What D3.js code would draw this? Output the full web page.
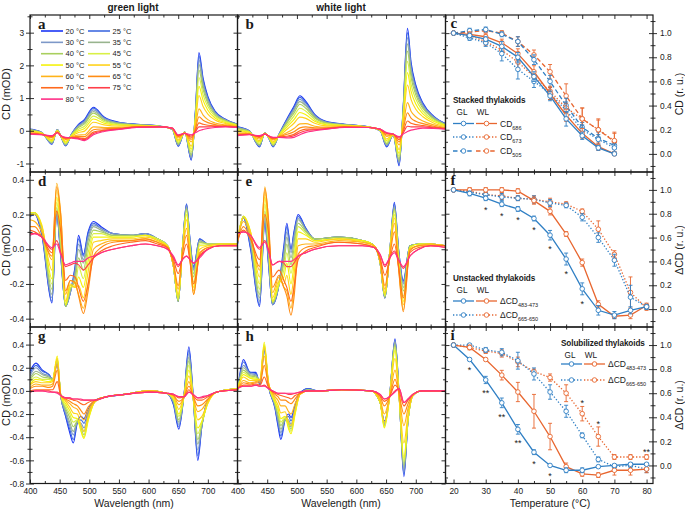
<!DOCTYPE html>
<html><head><meta charset="utf-8">
<script src="https://cdn.jsdelivr.net/npm/d3@7"></script>
<style>body{margin:0;background:#fff}</style></head>
<body><svg id="chart" width="685" height="511"></svg>
<script>
// ---------------- data ----------------
const temps = [20,25,30,35,40,45,50,55,60,65,70,75,80];
const tempColors = ["#1a35f5","#3f6ae0","#7d98c8","#98b48e","#a9cf5e","#d9f046","#f5f20c","#ffd21a","#ffb31a","#ff8c14","#ff6a1e","#ff3f4a","#ff2f86"];

// panel a: green light, stacked (rows = wavelength, columns = temps)
const aWl = [400,420,437,446,452,460,470,481,492,507,525,550,580,620,640,650,661,672,679,685,692,700,712,730,750];
const aCD = [
[0.05,0.04,0.04,0.03,0.02,0.0,-0.01,-0.03,-0.06,-0.07,-0.09,-0.09,-0.1],
[-0.05,-0.05,-0.06,-0.06,-0.07,-0.07,-0.08,-0.09,-0.1,-0.11,-0.11,-0.12,-0.12],
[-0.41,-0.4,-0.39,-0.37,-0.35,-0.33,-0.3,-0.27,-0.22,-0.2,-0.18,-0.16,-0.15],
[0.04,0.04,0.03,0.03,0.02,0.01,0.0,-0.02,-0.03,-0.04,-0.05,-0.06,-0.06],
[-0.17,-0.17,-0.17,-0.17,-0.16,-0.16,-0.16,-0.16,-0.16,-0.15,-0.15,-0.15,-0.15],
[-0.46,-0.45,-0.44,-0.42,-0.4,-0.38,-0.35,-0.32,-0.27,-0.25,-0.23,-0.21,-0.2],
[-0.1,-0.1,-0.11,-0.12,-0.13,-0.14,-0.15,-0.17,-0.19,-0.2,-0.21,-0.21,-0.22],
[0.18,0.16,0.14,0.12,0.09,0.04,-0.01,-0.06,-0.13,-0.17,-0.21,-0.23,-0.25],
[0.35,0.32,0.29,0.25,0.21,0.14,0.07,-0.01,-0.12,-0.18,-0.24,-0.27,-0.3],
[0.72,0.69,0.64,0.59,0.54,0.45,0.36,0.26,0.12,0.03,-0.04,-0.08,-0.12],
[0.42,0.4,0.38,0.35,0.32,0.28,0.23,0.18,0.1,0.06,0.02,0.0,-0.02],
[0.26,0.25,0.24,0.23,0.21,0.19,0.17,0.14,0.1,0.08,0.06,0.05,0.04],
[0.2,0.2,0.19,0.19,0.18,0.17,0.16,0.15,0.13,0.12,0.11,0.11,0.1],
[0.14,0.14,0.14,0.14,0.14,0.13,0.13,0.13,0.13,0.12,0.12,0.12,0.12],
[0.05,0.05,0.05,0.05,0.06,0.06,0.06,0.07,0.07,0.07,0.08,0.08,0.08],
[-0.47,-0.46,-0.44,-0.42,-0.39,-0.36,-0.32,-0.28,-0.22,-0.18,-0.16,-0.14,-0.12],
[-0.03,-0.03,-0.03,-0.04,-0.04,-0.05,-0.05,-0.06,-0.07,-0.07,-0.08,-0.08,-0.08],
[-0.9,-0.87,-0.83,-0.78,-0.73,-0.65,-0.56,-0.47,-0.34,-0.26,-0.2,-0.16,-0.12],
[0.6,0.57,0.54,0.5,0.45,0.39,0.32,0.24,0.12,0.06,0.01,-0.03,-0.06],
[2.39,2.29,2.17,2.03,1.86,1.63,1.36,1.08,0.67,0.43,0.24,0.12,0.0],
[1.6,1.54,1.46,1.37,1.26,1.1,0.93,0.74,0.48,0.32,0.2,0.12,0.04],
[1.05,1.01,0.96,0.9,0.83,0.74,0.63,0.51,0.34,0.25,0.17,0.12,0.07],
[0.6,0.58,0.56,0.53,0.49,0.44,0.39,0.33,0.24,0.19,0.15,0.13,0.1],
[0.35,0.34,0.33,0.32,0.3,0.28,0.25,0.22,0.18,0.16,0.14,0.13,0.12],
[0.2,0.2,0.19,0.19,0.18,0.17,0.16,0.15,0.13,0.12,0.11,0.11,0.1]];

// panel b: white light, stacked
const bWl = [400,420,437,446,452,460,470,485,495,505,515,530,550,580,620,640,651,662,672,679,686,692,700,712,730,750];
const bCD = [
[0.12,0.11,0.1,0.08,0.06,0.03,0.0,-0.03,-0.07,-0.1,-0.12,-0.14,-0.15],
[0.0,-0.01,-0.01,-0.02,-0.03,-0.04,-0.05,-0.07,-0.09,-0.1,-0.11,-0.11,-0.12],
[-0.49,-0.48,-0.46,-0.44,-0.42,-0.38,-0.34,-0.3,-0.25,-0.21,-0.18,-0.17,-0.15],
[-0.06,-0.06,-0.06,-0.07,-0.07,-0.07,-0.08,-0.08,-0.09,-0.09,-0.1,-0.1,-0.1],
[-0.2,-0.2,-0.2,-0.19,-0.19,-0.18,-0.18,-0.17,-0.16,-0.16,-0.16,-0.15,-0.15],
[-0.49,-0.48,-0.46,-0.45,-0.43,-0.4,-0.37,-0.33,-0.28,-0.25,-0.23,-0.21,-0.2],
[-0.1,-0.1,-0.11,-0.12,-0.12,-0.13,-0.14,-0.16,-0.17,-0.18,-0.19,-0.2,-0.2],
[0.43,0.4,0.37,0.33,0.29,0.22,0.15,0.07,-0.04,-0.1,-0.16,-0.19,-0.22],
[0.75,0.71,0.66,0.61,0.54,0.45,0.34,0.23,0.07,-0.03,-0.11,-0.15,-0.2],
[1.07,1.02,0.96,0.89,0.81,0.69,0.56,0.42,0.21,0.09,0.0,-0.06,-0.12],
[0.9,0.86,0.81,0.76,0.69,0.6,0.49,0.38,0.22,0.12,0.05,0.0,-0.05],
[0.5,0.48,0.46,0.43,0.39,0.34,0.29,0.23,0.14,0.09,0.05,0.03,0.0],
[0.28,0.27,0.26,0.25,0.23,0.21,0.18,0.15,0.11,0.09,0.07,0.06,0.05],
[0.2,0.2,0.19,0.19,0.18,0.17,0.16,0.15,0.13,0.12,0.11,0.11,0.1],
[0.12,0.12,0.12,0.12,0.12,0.11,0.11,0.11,0.11,0.1,0.1,0.1,0.1],
[0.0,0.0,0.0,0.01,0.01,0.02,0.02,0.03,0.04,0.04,0.05,0.05,0.05],
[-0.49,-0.47,-0.45,-0.42,-0.39,-0.35,-0.3,-0.25,-0.17,-0.13,-0.09,-0.07,-0.05],
[-0.13,-0.13,-0.13,-0.13,-0.12,-0.12,-0.12,-0.11,-0.11,-0.11,-0.1,-0.1,-0.1],
[-1.07,-1.03,-0.99,-0.94,-0.87,-0.79,-0.69,-0.58,-0.43,-0.34,-0.27,-0.22,-0.18],
[0.8,0.76,0.72,0.67,0.6,0.51,0.41,0.31,0.15,0.06,-0.01,-0.06,-0.1],
[3.13,3.0,2.85,2.66,2.44,2.12,1.78,1.4,0.86,0.55,0.3,0.14,-0.02],
[2.1,2.02,1.91,1.79,1.64,1.43,1.21,0.96,0.6,0.39,0.23,0.12,0.02],
[1.4,1.35,1.28,1.2,1.1,0.97,0.82,0.66,0.43,0.29,0.19,0.12,0.05],
[0.85,0.82,0.78,0.73,0.68,0.6,0.52,0.43,0.3,0.22,0.16,0.12,0.08],
[0.45,0.43,0.42,0.39,0.37,0.33,0.29,0.24,0.18,0.14,0.11,0.09,0.07],
[0.22,0.21,0.2,0.19,0.18,0.17,0.15,0.13,0.1,0.08,0.07,0.06,0.05]];

// panel d: green light, unstacked
const dWl = [400,408,420,437,445,452,460,468,476,482,490,498,507,520,540,570,595,615,632,642,650,657,664,670,676,686,700,720,750];
const dCD = [
[0.19,0.19,0.2,0.2,0.21,0.21,0.21,0.2,0.17,0.13,0.11,0.09,0.08],
[0.2,0.2,0.21,0.21,0.21,0.21,0.21,0.2,0.16,0.13,0.1,0.09,0.09],
[0.08,0.09,0.1,0.11,0.12,0.13,0.14,0.13,0.1,0.07,0.07,0.07,0.07],
[-0.31,-0.3,-0.28,-0.26,-0.23,-0.2,-0.17,-0.12,-0.06,-0.04,-0.02,0.0,0.01],
[0.2,0.2,0.21,0.22,0.24,0.27,0.3,0.34,0.38,0.36,0.22,0.05,0.03],
[-0.05,-0.04,-0.03,-0.01,0.02,0.06,0.1,0.14,0.2,0.19,0.1,-0.02,-0.03],
[-0.33,-0.33,-0.33,-0.33,-0.33,-0.32,-0.32,-0.3,-0.26,-0.24,-0.18,-0.1,-0.09],
[-0.25,-0.25,-0.25,-0.24,-0.23,-0.22,-0.21,-0.2,-0.18,-0.18,-0.15,-0.09,-0.08],
[-0.1,-0.11,-0.13,-0.15,-0.18,-0.21,-0.22,-0.22,-0.2,-0.19,-0.16,-0.08,-0.07],
[0.08,0.06,0.03,0.0,-0.05,-0.1,-0.16,-0.21,-0.26,-0.27,-0.22,-0.09,-0.07],
[-0.03,-0.04,-0.06,-0.08,-0.12,-0.17,-0.22,-0.28,-0.34,-0.37,-0.3,-0.12,-0.07],
[0.1,0.09,0.07,0.05,0.02,-0.02,-0.07,-0.13,-0.2,-0.24,-0.2,-0.09,-0.05],
[0.16,0.15,0.14,0.13,0.11,0.09,0.07,0.04,0.0,-0.04,-0.05,-0.05,-0.04],
[0.13,0.12,0.12,0.11,0.1,0.09,0.07,0.05,0.03,0.01,-0.01,-0.02,-0.02],
[0.09,0.09,0.09,0.08,0.08,0.07,0.07,0.06,0.05,0.04,0.02,0.0,0.0],
[0.08,0.08,0.08,0.08,0.08,0.07,0.07,0.06,0.05,0.05,0.04,0.02,0.02],
[0.09,0.09,0.09,0.08,0.08,0.08,0.08,0.07,0.06,0.06,0.05,0.03,0.03],
[0.06,0.06,0.06,0.06,0.06,0.06,0.05,0.05,0.04,0.04,0.03,0.02,0.02],
[0.02,0.02,0.02,0.02,0.02,0.02,0.02,0.01,0.01,0.01,0.01,0.0,0.0],
[-0.1,-0.1,-0.1,-0.1,-0.1,-0.1,-0.1,-0.09,-0.09,-0.08,-0.06,-0.05,-0.04],
[-0.3,-0.3,-0.3,-0.3,-0.3,-0.29,-0.28,-0.26,-0.23,-0.21,-0.14,-0.1,-0.09],
[0.0,0.0,0.0,0.0,0.0,-0.01,-0.01,-0.01,-0.02,-0.03,-0.05,-0.06,-0.06],
[0.26,0.26,0.25,0.24,0.23,0.22,0.2,0.17,0.12,0.08,0.03,-0.04,-0.04],
[0.05,0.05,0.04,0.03,0.02,0.0,-0.02,-0.04,-0.06,-0.07,-0.07,-0.06,-0.06],
[-0.1,-0.11,-0.12,-0.14,-0.16,-0.19,-0.22,-0.24,-0.26,-0.26,-0.2,-0.08,-0.08],
[0.06,0.06,0.05,0.05,0.04,0.03,0.02,0.0,-0.02,-0.03,-0.04,-0.04,-0.05],
[0.03,0.03,0.03,0.03,0.03,0.03,0.02,0.02,0.01,0.01,0.0,0.0,0.0],
[0.03,0.03,0.03,0.03,0.03,0.03,0.03,0.03,0.02,0.02,0.02,0.02,0.02],
[0.03,0.03,0.03,0.03,0.03,0.03,0.03,0.03,0.03,0.02,0.02,0.02,0.02]];

// panel e: white light, unstacked
const eWl = [400,410,422,437,446,452,459,470,478,483,490,495,502,515,530,570,610,630,640,648,656,664,671,679,690,705,725,750];
const eCD = [
[0.03,0.03,0.04,0.04,0.05,0.05,0.05,0.05,0.05,0.04,0.06,0.09,0.09],
[0.18,0.18,0.19,0.19,0.19,0.19,0.19,0.18,0.16,0.13,0.11,0.1,0.1],
[0.0,0.01,0.03,0.05,0.07,0.09,0.1,0.1,0.08,0.06,0.06,0.08,0.08],
[-0.33,-0.32,-0.3,-0.28,-0.26,-0.23,-0.2,-0.16,-0.12,-0.1,-0.06,0.0,0.01],
[0.15,0.16,0.17,0.19,0.22,0.26,0.3,0.33,0.36,0.35,0.2,0.05,0.04],
[-0.08,-0.07,-0.05,-0.03,0.0,0.04,0.08,0.12,0.17,0.18,0.1,0.0,-0.01],
[-0.32,-0.32,-0.32,-0.31,-0.31,-0.3,-0.3,-0.28,-0.25,-0.22,-0.16,-0.09,-0.09],
[-0.2,-0.2,-0.2,-0.2,-0.2,-0.2,-0.19,-0.18,-0.16,-0.15,-0.12,-0.07,-0.07],
[0.02,0.0,-0.02,-0.05,-0.08,-0.12,-0.16,-0.2,-0.22,-0.22,-0.18,-0.08,-0.07],
[0.15,0.13,0.1,0.07,0.03,-0.02,-0.08,-0.15,-0.24,-0.27,-0.22,-0.1,-0.07],
[0.0,0.0,-0.02,-0.05,-0.09,-0.14,-0.2,-0.26,-0.34,-0.38,-0.3,-0.1,-0.07],
[0.1,0.09,0.07,0.04,0.0,-0.04,-0.09,-0.15,-0.23,-0.28,-0.22,-0.08,-0.06],
[0.2,0.19,0.18,0.17,0.15,0.13,0.1,0.06,0.02,-0.03,-0.06,-0.04,-0.04],
[0.12,0.12,0.11,0.11,0.1,0.09,0.08,0.06,0.03,0.01,-0.01,-0.02,-0.02],
[0.06,0.06,0.06,0.06,0.06,0.05,0.05,0.04,0.03,0.02,0.01,0.0,0.0],
[0.07,0.07,0.07,0.07,0.07,0.06,0.06,0.06,0.05,0.04,0.04,0.02,0.02],
[0.05,0.05,0.05,0.05,0.05,0.05,0.05,0.04,0.04,0.03,0.03,0.02,0.02],
[0.02,0.02,0.02,0.02,0.02,0.02,0.02,0.02,0.02,0.01,0.01,0.01,0.01],
[-0.08,-0.08,-0.08,-0.08,-0.08,-0.08,-0.07,-0.07,-0.07,-0.06,-0.05,-0.03,-0.03],
[-0.28,-0.28,-0.28,-0.28,-0.27,-0.27,-0.26,-0.25,-0.23,-0.21,-0.15,-0.1,-0.09],
[-0.02,-0.02,-0.02,-0.02,-0.02,-0.02,-0.03,-0.03,-0.04,-0.05,-0.06,-0.05,-0.05],
[0.27,0.26,0.25,0.24,0.23,0.22,0.2,0.18,0.15,0.1,0.03,-0.01,-0.02],
[0.0,0.0,-0.01,-0.02,-0.03,-0.05,-0.07,-0.09,-0.1,-0.11,-0.1,-0.06,-0.06],
[-0.18,-0.19,-0.2,-0.22,-0.24,-0.27,-0.3,-0.32,-0.35,-0.36,-0.28,-0.11,-0.1],
[0.02,0.02,0.02,0.02,0.02,0.01,0.01,0.0,0.0,-0.01,-0.02,-0.04,-0.04],
[0.03,0.03,0.03,0.03,0.03,0.03,0.03,0.02,0.02,0.02,0.01,0.0,0.0],
[0.03,0.03,0.03,0.03,0.03,0.03,0.03,0.03,0.03,0.02,0.02,0.02,0.02],
[0.02,0.02,0.02,0.02,0.02,0.02,0.02,0.02,0.02,0.02,0.02,0.01,0.01]];

// panel g: green light, solubilized
const gWl = [400,410,421,432,438,446,452,460,467,473,480,486,491,498,510,530,560,600,630,642,651,660,668,675,683,690,700,715,750];
const gCD = [
[0.17,0.15,0.13,0.11,0.09,0.08,0.06,0.05,0.03,0.02,0.0,-0.01,-0.01],
[0.24,0.22,0.2,0.17,0.15,0.12,0.1,0.08,0.06,0.04,0.01,0.0,0.0],
[0.18,0.17,0.15,0.14,0.12,0.1,0.09,0.07,0.05,0.04,0.01,0.0,0.0],
[0.14,0.14,0.13,0.12,0.11,0.1,0.08,0.07,0.05,0.03,0.01,0.0,-0.01],
[0.1,0.1,0.1,0.1,0.1,0.09,0.09,0.08,0.06,0.04,0.01,-0.01,-0.01],
[0.23,0.24,0.25,0.26,0.27,0.28,0.3,0.28,0.23,0.18,0.08,-0.01,-0.02],
[-0.05,-0.05,-0.05,-0.05,-0.04,-0.04,-0.04,-0.04,-0.04,-0.04,-0.04,-0.04,-0.04],
[-0.22,-0.21,-0.19,-0.17,-0.15,-0.13,-0.11,-0.09,-0.08,-0.07,-0.06,-0.06,-0.06],
[-0.36,-0.33,-0.3,-0.27,-0.23,-0.2,-0.17,-0.14,-0.11,-0.09,-0.07,-0.06,-0.06],
[-0.45,-0.42,-0.38,-0.35,-0.31,-0.27,-0.23,-0.19,-0.14,-0.11,-0.08,-0.07,-0.07],
[-0.27,-0.27,-0.27,-0.27,-0.26,-0.25,-0.24,-0.2,-0.16,-0.13,-0.09,-0.07,-0.07],
[-0.22,-0.25,-0.28,-0.3,-0.32,-0.34,-0.35,-0.3,-0.22,-0.17,-0.11,-0.08,-0.07],
[-0.24,-0.28,-0.32,-0.35,-0.38,-0.4,-0.41,-0.35,-0.25,-0.2,-0.12,-0.08,-0.08],
[-0.16,-0.18,-0.2,-0.22,-0.24,-0.25,-0.26,-0.22,-0.17,-0.14,-0.1,-0.08,-0.08],
[-0.08,-0.08,-0.09,-0.09,-0.09,-0.09,-0.09,-0.09,-0.09,-0.08,-0.08,-0.08,-0.08],
[-0.05,-0.05,-0.05,-0.05,-0.05,-0.05,-0.05,-0.05,-0.05,-0.05,-0.05,-0.05,-0.05],
[-0.03,-0.03,-0.03,-0.03,-0.03,-0.03,-0.03,-0.03,-0.03,-0.03,-0.03,-0.03,-0.03],
[0.0,0.0,0.0,0.0,0.0,0.0,0.0,0.0,0.0,-0.01,-0.01,-0.01,-0.01],
[-0.02,-0.02,-0.02,-0.02,-0.02,-0.02,-0.02,-0.02,-0.02,-0.02,-0.02,-0.02,-0.02],
[-0.12,-0.11,-0.1,-0.09,-0.08,-0.07,-0.06,-0.05,-0.04,-0.04,-0.03,-0.03,-0.03],
[-0.33,-0.31,-0.29,-0.27,-0.25,-0.22,-0.2,-0.16,-0.12,-0.09,-0.06,-0.05,-0.05],
[-0.02,-0.02,-0.03,-0.03,-0.03,-0.04,-0.04,-0.04,-0.05,-0.05,-0.05,-0.05,-0.05],
[0.38,0.35,0.32,0.29,0.26,0.22,0.18,0.13,0.08,0.04,0.01,-0.01,-0.01],
[-0.02,-0.03,-0.04,-0.04,-0.05,-0.05,-0.05,-0.05,-0.05,-0.04,-0.04,-0.03,-0.03],
[-0.6,-0.56,-0.51,-0.46,-0.42,-0.37,-0.32,-0.25,-0.18,-0.13,-0.08,-0.06,-0.06],
[-0.3,-0.3,-0.3,-0.29,-0.28,-0.27,-0.26,-0.22,-0.16,-0.12,-0.08,-0.06,-0.05],
[-0.08,-0.08,-0.09,-0.09,-0.1,-0.1,-0.11,-0.1,-0.08,-0.07,-0.05,-0.04,-0.04],
[-0.01,-0.01,-0.01,-0.01,-0.01,-0.01,-0.01,-0.01,-0.01,-0.01,-0.01,-0.01,-0.01],
[0.02,0.02,0.02,0.02,0.02,0.02,0.02,0.02,0.01,0.01,0.01,0.01,0.01]];

// panel h: white light, solubilized
const hWl = [400,410,421,431,438,445,452,463,468,473,480,486,490,497,505,519,535,575,625,640,647,656,665,672,680,687,695,710,750];
const hCD = [
[0.0,0.0,0.0,0.0,0.01,0.01,0.01,0.01,0.01,0.01,0.02,0.02,0.02],
[0.27,0.25,0.22,0.2,0.18,0.16,0.14,0.12,0.09,0.07,0.05,0.04,0.04],
[0.16,0.16,0.15,0.14,0.13,0.12,0.11,0.09,0.07,0.06,0.05,0.04,0.04],
[0.16,0.15,0.14,0.13,0.12,0.11,0.1,0.09,0.08,0.07,0.06,0.05,0.05],
[0.05,0.06,0.07,0.08,0.09,0.09,0.1,0.1,0.09,0.07,0.05,0.04,0.04],
[0.35,0.36,0.37,0.38,0.39,0.4,0.42,0.38,0.3,0.22,0.12,0.05,0.04],
[0.05,0.05,0.06,0.06,0.07,0.07,0.08,0.07,0.06,0.05,0.03,0.02,0.02],
[-0.15,-0.14,-0.13,-0.12,-0.11,-0.1,-0.09,-0.07,-0.05,-0.03,-0.02,-0.01,-0.01],
[-0.3,-0.28,-0.25,-0.23,-0.2,-0.17,-0.15,-0.12,-0.08,-0.05,-0.03,-0.02,-0.02],
[-0.42,-0.39,-0.36,-0.33,-0.3,-0.27,-0.24,-0.19,-0.13,-0.08,-0.04,-0.02,-0.02],
[-0.25,-0.25,-0.25,-0.25,-0.24,-0.23,-0.22,-0.18,-0.13,-0.08,-0.05,-0.02,-0.02],
[-0.2,-0.22,-0.25,-0.27,-0.29,-0.31,-0.33,-0.27,-0.18,-0.1,-0.06,-0.03,-0.02],
[-0.23,-0.26,-0.29,-0.31,-0.33,-0.35,-0.37,-0.3,-0.2,-0.11,-0.07,-0.03,-0.02],
[-0.12,-0.13,-0.15,-0.16,-0.18,-0.19,-0.2,-0.16,-0.11,-0.07,-0.04,-0.02,-0.02],
[-0.02,-0.02,-0.03,-0.03,-0.03,-0.03,-0.03,-0.03,-0.03,-0.02,-0.02,-0.01,-0.01],
[0.02,0.02,0.01,0.01,0.01,0.0,0.0,0.0,0.0,0.0,0.0,0.0,0.0],
[0.0,0.0,0.0,0.0,0.0,0.0,0.0,0.0,0.0,0.0,0.0,0.0,0.0],
[0.01,0.01,0.01,0.01,0.01,0.01,0.01,0.01,0.01,0.01,0.01,0.01,0.01],
[0.0,0.0,0.0,0.0,0.0,0.0,0.0,0.0,0.0,0.0,0.0,0.0,0.0],
[-0.1,-0.1,-0.1,-0.1,-0.1,-0.1,-0.1,-0.09,-0.07,-0.05,-0.04,-0.03,-0.03],
[-0.26,-0.27,-0.28,-0.29,-0.3,-0.31,-0.32,-0.27,-0.2,-0.13,-0.09,-0.07,-0.07],
[-0.04,-0.04,-0.04,-0.04,-0.05,-0.05,-0.05,-0.05,-0.05,-0.05,-0.05,-0.05,-0.05],
[0.45,0.44,0.43,0.42,0.4,0.38,0.35,0.28,0.18,0.1,0.05,0.0,-0.01],
[-0.03,-0.04,-0.04,-0.05,-0.05,-0.05,-0.06,-0.05,-0.04,-0.03,0.0,0.02,0.02],
[-0.74,-0.72,-0.7,-0.67,-0.64,-0.61,-0.58,-0.45,-0.3,-0.2,-0.13,-0.1,-0.1],
[-0.25,-0.25,-0.25,-0.25,-0.25,-0.24,-0.24,-0.2,-0.15,-0.11,-0.08,-0.07,-0.07],
[-0.04,-0.04,-0.04,-0.04,-0.04,-0.04,-0.04,-0.04,-0.04,-0.03,-0.03,-0.03,-0.03],
[0.0,0.0,0.0,0.0,0.0,0.0,0.0,0.0,0.0,0.0,0.0,0.0,0.0],
[0.0,0.0,0.0,0.0,0.0,0.0,0.0,0.0,0.0,0.0,0.0,0.0,0.0]];

// panel c: stacked thylakoids (20..70 °C)
const cTemps = [20,25,30,35,40,45,50,55,60,65,70];
const cGL686 = [1.0,0.98,0.95,0.89,0.8,0.64,0.48,0.29,0.15,0.05,0.0];
const cGL686err = [0,0.02,0.02,0.04,0.04,0.04,0.04,0.06,0.03,0.02,0.01];
const cWL686 = [1.0,0.99,0.97,0.92,0.83,0.68,0.5,0.32,0.17,0.06,0.0];
const cWL686err = [0,0.02,0.02,0.03,0.04,0.05,0.05,0.05,0.04,0.03,0.01];
const cGL673 = [1.0,0.96,0.92,0.83,0.7,0.6,0.5,0.36,0.2,0.12,0.05];
const cGL673err = [0,0.02,0.03,0.06,0.08,0.05,0.05,0.07,0.04,0.04,0.03];
const cWL673 = [1.0,0.98,0.93,0.86,0.76,0.64,0.52,0.38,0.29,0.2,0.11];
const cWL673err = [0,0.02,0.03,0.03,0.05,0.04,0.04,0.04,0.09,0.08,0.06];
const cGL505 = [1.0,1.02,1.03,0.99,0.93,0.78,0.6,0.4,0.22,0.13,0.07];
const cGL505err = [0,0.02,0.02,0.02,0.04,0.04,0.05,0.06,0.04,0.05,0.03];
const cWL505 = [1.0,1.01,1.02,1.0,0.93,0.82,0.68,0.48,0.29,0.2,0.1];
const cWL505err = [0,0.02,0.02,0.02,0.04,0.04,0.06,0.1,0.09,0.09,0.08];

// panel f: unstacked thylakoids (20..80 °C)
const fGL483 = [1.0,0.97,0.93,0.88,0.84,0.76,0.62,0.42,0.17,-0.01,-0.05,-0.01,0.02];
const fGL483err = [0,0.02,0.02,0.02,0.02,0.02,0.04,0.05,0.05,0.04,0.03,0.03,0.02];
const fWL483 = [1.0,1.0,1.0,1.0,0.99,0.91,0.82,0.63,0.39,0.04,-0.06,-0.05,0.03];
const fWL483err = [0,0.02,0.02,0.02,0.02,0.03,0.03,0.02,0.03,0.03,0.02,0.03,0.02];
const fGL665 = [1.0,0.98,0.96,0.94,0.93,0.92,0.89,0.87,0.77,0.6,0.41,0.1,0.02];
const fGL665err = [0,0.02,0.02,0.03,0.02,0.03,0.03,0.02,0.03,0.04,0.05,0.1,0.02];
const fWL665 = [1.0,0.99,0.96,0.95,0.93,0.92,0.9,0.88,0.82,0.67,0.46,0.14,0.01];
const fWL665err = [0,0.02,0.02,0.03,0.02,0.03,0.03,0.02,0.02,0.07,0.03,0.13,0.02];
const fStarTemps = [30,35,40,45,50,55,60];
const fStarMarks = ["*","*","*","*","*","*","*"];

// panel i: solubilized thylakoids (20..80 °C)
const iGL483 = [1.0,0.88,0.71,0.52,0.3,0.11,0.0,-0.04,-0.04,-0.01,0.0,0.01,0.01];
const iGL483err = [0,0.01,0.03,0.04,0.04,0.02,0.01,0.02,0.02,0.01,0.01,0.01,0.01];
const iWL483 = [1.0,0.98,0.88,0.75,0.61,0.45,0.24,-0.01,-0.07,-0.08,-0.04,-0.04,-0.03];
const iWL483err = [0,0.02,0.01,0.04,0.08,0.14,0.11,0.03,0.02,0.02,0.04,0.04,0.03];
const iGL665 = [1.0,1.0,0.96,0.94,0.87,0.76,0.61,0.45,0.25,0.05,-0.01,0.0,-0.03];
const iGL665err = [0,0.01,0.02,0.03,0.07,0.05,0.06,0.05,0.02,0.02,0.01,0.02,0.03];
const iWL665 = [1.0,0.98,0.95,0.93,0.86,0.78,0.73,0.6,0.43,0.24,0.07,0.07,0.07];
const iWL665err = [0,0.01,0.02,0.03,0.04,0.02,0.03,0.07,0.06,0.08,0.02,0.02,0.02];
const iStarBelowTemps = [25,30,35,40,45,50];
const iStarBelowMarks = ["*","**","**","**","*","*"];
const iStarAboveTemps = [60,65,80];
const iStarAboveMarks = ["*","*","**"];

const specTicks = [400,450,500,550,600,650,700,750];
const specMinor = [425,475,525,575,625,675,725];
const tempTicks = [20,30,40,50,60,70,80];
const tempMinor = [25,35,45,55,65,75];

// ---------------- drawing ----------------
const FONT = "'Liberation Sans', Arial, sans-serif";
const ink = "#1a1a1a";
const BLUE = "#2f7fc4", ORANGE = "#e8662f";
const svg = d3.select("#chart").attr("font-family", FONT);
const defs = svg.append("defs");

const colL = [30, 237.5], colM = [237.5, 445.5], colR = [445.5, 653];
const rows = [[172, 15], [327, 172], [483.5, 327]];

function axisPart(g, gen, scale, vals, size, fmt, tx, ty, pad) {
  const a = gen(scale).tickValues(vals).tickSize(size).tickPadding(pad == null ? 2.5 : pad)
    .tickFormat(fmt || (() => ""));
  const s = g.append("g").attr("transform", `translate(${tx},${ty})`).call(a);
  s.select(".domain").remove();
  s.selectAll(".tick line").attr("stroke", ink).attr("stroke-width", 0.9);
  s.selectAll(".tick text").attr("font-size", 8.4).attr("fill", ink).attr("font-family", FONT);
  return s;
}

function framePanel(x, y, xMaj, xMin, yMaj, yMin, opt) {
  const [xl, xr] = x.range(), [yb, yt] = y.range();
  const g = svg.append("g");
  axisPart(g, d3.axisBottom, x, xMaj, -4, opt.xFmt || null, 0, yb, 5);
  axisPart(g, d3.axisBottom, x, xMin, -2.5, null, 0, yb);
  axisPart(g, d3.axisTop, x, xMaj, -4, null, 0, yt);
  axisPart(g, d3.axisTop, x, xMin, -2.5, null, 0, yt);
  axisPart(g, d3.axisLeft, y, yMaj, -4, null, xl, 0);
  axisPart(g, d3.axisLeft, y, yMin, -2.5, null, xl, 0);
  axisPart(g, d3.axisRight, y, yMaj, -4, null, xr, 0);
  axisPart(g, d3.axisRight, y, yMin, -2.5, null, xr, 0);
  if (opt.leftFmt) {
    axisPart(g, d3.axisLeft, y, yMaj, 4, opt.leftFmt, xl, 0, 1.8);
    axisPart(g, d3.axisLeft, y, yMin, 2.5, null, xl, 0);
  }
  if (opt.rightFmt) {
    axisPart(g, d3.axisRight, y, yMaj, 4, opt.rightFmt, xr, 0, 3);
    axisPart(g, d3.axisRight, y, yMin, 2.5, null, xr, 0);
  }
  g.append("rect").attr("x", xl).attr("y", yt).attr("width", xr - xl).attr("height", yb - yt)
    .attr("fill", "none").attr("stroke", ink).attr("stroke-width", 1.2);
  return g;
}

function clipFor(id, x, y) {
  const [xl, xr] = x.range(), [yb, yt] = y.range();
  defs.append("clipPath").attr("id", id).append("rect")
    .attr("x", xl).attr("y", yt).attr("width", xr - xl).attr("height", yb - yt);
  return `url(#${id})`;
}

function spectraPanel(id, col, row, yDom, wl, vals, yMaj, yMin, opt) {
  const x = d3.scaleLinear().domain([400, 750]).range(col);
  const y = d3.scaleLinear().domain(yDom).range(row);
  const g = svg.append("g").attr("clip-path", clipFor("clip" + id, x, y));
  const line = d3.line().x(d => x(d[0])).y(d => y(d[1])).curve(d3.curveMonotoneX);
  temps.forEach((t, ti) => {
    const pts = wl.map((w, i) => [w, vals[i][ti]]);
    g.append("path").datum(pts).attr("d", line).attr("fill", "none")
      .attr("stroke", tempColors[ti]).attr("stroke-width", 1.15).attr("stroke-linejoin", "round");
  });
  framePanel(x, y, specTicks, specMinor, yMaj, yMin, opt);
  svg.append("text").attr("x", col[0] + 8).attr("y", row[1] + 14).text(id)
    .attr("font-family", "'Liberation Serif', 'DejaVu Serif', serif").attr("font-weight", "bold")
    .attr("font-size", 15).attr("fill", ink);
  return { x, y };
}

const fmtInt = v => String(v);
const fmt1 = v => v.toFixed(1);

const abMaj = [-1,0,1,2,3], abMin = [-0.5,0.5,1.5,2.5,3.5];
const deMaj = [-0.4,-0.2,0,0.2,0.4], deMin = [-0.3,-0.1,0.1,0.3];
const ghMaj = [-0.8,-0.6,-0.4,-0.2,0,0.2,0.4], ghMin = [-0.7,-0.5,-0.3,-0.1,0.1,0.3,0.5];

spectraPanel("a", colL, rows[0], [-1.26, 3.54], aWl, aCD, abMaj, abMin, { leftFmt: fmtInt });
spectraPanel("b", colM, rows[0], [-1.26, 3.54], bWl, bCD, abMaj, abMin, {});
spectraPanel("d", colL, rows[1], [-0.448, 0.445], dWl, dCD, deMaj, deMin, { leftFmt: fmt1 });
spectraPanel("e", colM, rows[1], [-0.448, 0.445], eWl, eCD, deMaj, deMin, {});
spectraPanel("g", colL, rows[2], [-0.8, 0.552], gWl, gCD, ghMaj, ghMin,
  { leftFmt: fmt1, xFmt: v => v === 750 ? "" : String(v) });
spectraPanel("h", colM, rows[2], [-0.8, 0.552], hWl, hCD, ghMaj, ghMin,
  { xFmt: v => v === 750 ? "" : String(v) });

// legend in panel a
const legG = svg.append("g");
temps.forEach((t, i) => {
  const c = i % 2, r = Math.floor(i / 2);
  const lx = c === 0 ? 41 : 88, ly = 31 + r * 11.35;
  legG.append("line").attr("x1", lx).attr("x2", lx + 22).attr("y1", ly).attr("y2", ly)
    .attr("stroke", tempColors[i]).attr("stroke-width", 1.6);
  legG.append("text").attr("x", lx + 24.5).attr("y", ly + 2.6).text(t + " °C")
    .attr("font-size", 7.5).attr("fill", ink);
});

// temperature panels
const tempY = [-0.15, 1.15];
const crMaj = [0,0.2,0.4,0.6,0.8,1.0], crMin = [-0.1,0.1,0.3,0.5,0.7,0.9,1.1];
const DOT = "1.3,1.9", DASH = "4.5,2.6";

function tempPanel(id, row, xFmt) {
  const x = d3.scaleLinear().domain([17.5, 82]).range(colR);
  const y = d3.scaleLinear().domain(tempY).range(row);
  framePanel(x, y, tempTicks, tempMinor, crMaj, crMin, { rightFmt: fmt1, xFmt });
  svg.append("text").attr("x", colR[0] + 5).attr("y", row[1] + 13).text(id)
    .attr("font-family", "'Liberation Serif', 'DejaVu Serif', serif").attr("font-weight", "bold")
    .attr("font-size", 15).attr("fill", ink);
  return { x, y, g: svg.append("g") };
}

function drawSeries(P, xs, vals, errs, color, dash) {
  const pts = xs.map((t, i) => ({ t, v: vals[i], e: errs[i] }));
  const { x, y, g } = P;
  pts.filter(d => d.e > 0).forEach(d => {
    const cx = x(d.t);
    g.append("line").attr("x1", cx).attr("x2", cx).attr("y1", y(d.v - d.e)).attr("y2", y(d.v + d.e))
      .attr("stroke", color).attr("stroke-width", 0.9);
    [d.v - d.e, d.v + d.e].forEach(v => g.append("line").attr("x1", cx - 2).attr("x2", cx + 2)
      .attr("y1", y(v)).attr("y2", y(v)).attr("stroke", color).attr("stroke-width", 0.9));
  });
  g.append("path").datum(pts).attr("d", d3.line().x(d => x(d.t)).y(d => y(d.v)))
    .attr("fill", "none").attr("stroke", color).attr("stroke-width", 1.3)
    .attr("stroke-dasharray", dash || null);
  g.selectAll(null).data(pts).enter().append("circle")
    .attr("cx", d => x(d.t)).attr("cy", d => y(d.v)).attr("r", 2.3)
    .attr("fill", "#fff").attr("stroke", color).attr("stroke-width", 0.9);
}

function legendBlock(x0, yTitle, title, rowsY, label, subs, dashes) {
  const g = svg.append("g");
  g.append("text").attr("x", x0).attr("y", yTitle).text(title).attr("font-weight", "bold")
    .attr("font-size", 8.2).attr("fill", ink).attr("letter-spacing", -0.1);
  g.append("text").attr("x", x0 + 9).attr("y", yTitle + 12).text("GL").attr("text-anchor", "middle")
    .attr("font-size", 8.2).attr("fill", ink);
  g.append("text").attr("x", x0 + 30).attr("y", yTitle + 12).text("WL").attr("text-anchor", "middle")
    .attr("font-size", 8.2).attr("fill", ink);
  rowsY.forEach((ry, k) => {
    [[BLUE, x0, x0 + 21], [ORANGE, x0 + 23, x0 + 44]].forEach(([col, a, b]) => {
      g.append("line").attr("x1", a).attr("x2", b).attr("y1", ry).attr("y2", ry)
        .attr("stroke", col).attr("stroke-width", 1.3).attr("stroke-dasharray", dashes[k] || null);
      g.append("circle").attr("cx", (a + b) / 2).attr("cy", ry).attr("r", 2.3)
        .attr("fill", "#fff").attr("stroke", col).attr("stroke-width", 0.9);
    });
    const t = g.append("text").attr("x", x0 + 47).attr("y", ry + 3).attr("font-size", 8.5).attr("fill", ink);
    t.append("tspan").text(label);
    t.append("tspan").attr("dy", 3).attr("font-size", 5.5).text(subs[k]);
  });
}

function stars(P, ts, marks, vals, errs, xs, below) {
  ts.forEach((t, k) => {
    const i = xs.indexOf(t);
    const yv = below ? P.y(vals[i] - errs[i]) + 7 : P.y(vals[i] + errs[i]) - 5;
    P.g.append("text").attr("x", P.x(t)).attr("y", yv + 5).attr("text-anchor", "middle")
      .attr("font-size", 9).attr("fill", ink).text(marks[k]);
  });
}

// c
const Pc = tempPanel("c", rows[0], () => "");
drawSeries(Pc, cTemps, cWL505, cWL505err, ORANGE, DASH);
drawSeries(Pc, cTemps, cGL505, cGL505err, BLUE, DASH);
drawSeries(Pc, cTemps, cWL673, cWL673err, ORANGE, DOT);
drawSeries(Pc, cTemps, cGL673, cGL673err, BLUE, DOT);
drawSeries(Pc, cTemps, cWL686, cWL686err, ORANGE, null);
drawSeries(Pc, cTemps, cGL686, cGL686err, BLUE, null);
legendBlock(453, 103, "Stacked thylakoids", [123.5, 137, 151], "CD", ["686", "673", "505"], [null, DOT, DASH]);

// f
const Pf = tempPanel("f", rows[1], () => "");
drawSeries(Pf, temps, fWL665, fWL665err, ORANGE, DOT);
drawSeries(Pf, temps, fGL665, fGL665err, BLUE, DOT);
drawSeries(Pf, temps, fWL483, fWL483err, ORANGE, null);
drawSeries(Pf, temps, fGL483, fGL483err, BLUE, null);
stars(Pf, fStarTemps, fStarMarks, fGL483, fGL483err, temps, true);
legendBlock(453, 281, "Unstacked thylakoids", [301, 315], "ΔCD", ["483-473", "665-650"], [null, DOT]);

// i
const Pi = tempPanel("i", rows[2], fmtInt);
drawSeries(Pi, temps, iWL665, iWL665err, ORANGE, DOT);
drawSeries(Pi, temps, iGL665, iGL665err, BLUE, DOT);
drawSeries(Pi, temps, iWL483, iWL483err, ORANGE, null);
drawSeries(Pi, temps, iGL483, iGL483err, BLUE, null);
stars(Pi, iStarBelowTemps, iStarBelowMarks, iGL483, iGL483err, temps, true);
stars(Pi, iStarAboveTemps, iStarAboveMarks, iWL665, iWL665err, temps, false);
legendBlock(561, 345.5, "Solubilized thylakoids", [364, 380], "ΔCD", ["483-473", "665-650"], [null, DOT]);

// titles and axis labels
function label(txt, x, y, size, rot, bold) {
  svg.append("text").attr("transform", `translate(${x},${y}) rotate(${rot || 0})`)
    .attr("text-anchor", "middle").attr("font-size", size).attr("fill", ink)
    .attr("font-weight", bold ? "bold" : null).text(txt);
}
label("green light", 133, 11, 10, 0, true);
label("white light", 341, 11, 10, 0, true);
label("Wavelength (nm)", 134, 507, 10.5);
label("Wavelength (nm)", 341, 507, 10.5);
label("Temperature (°C)", 550, 507, 10.5);
label("CD (mOD)", 9.5, 94, 11, -90);
label("CD (mOD)", 9.5, 250, 11, -90);
label("CD (mOD)", 9.5, 400, 11, -90);
label("CD (r. u.)", 683, 94, 10.5, -90);
label("ΔCD (r. u.)", 683, 250, 10.5, -90);
label("ΔCD (r. u.)", 683, 405, 10.5, -90);
</script></body></html>
